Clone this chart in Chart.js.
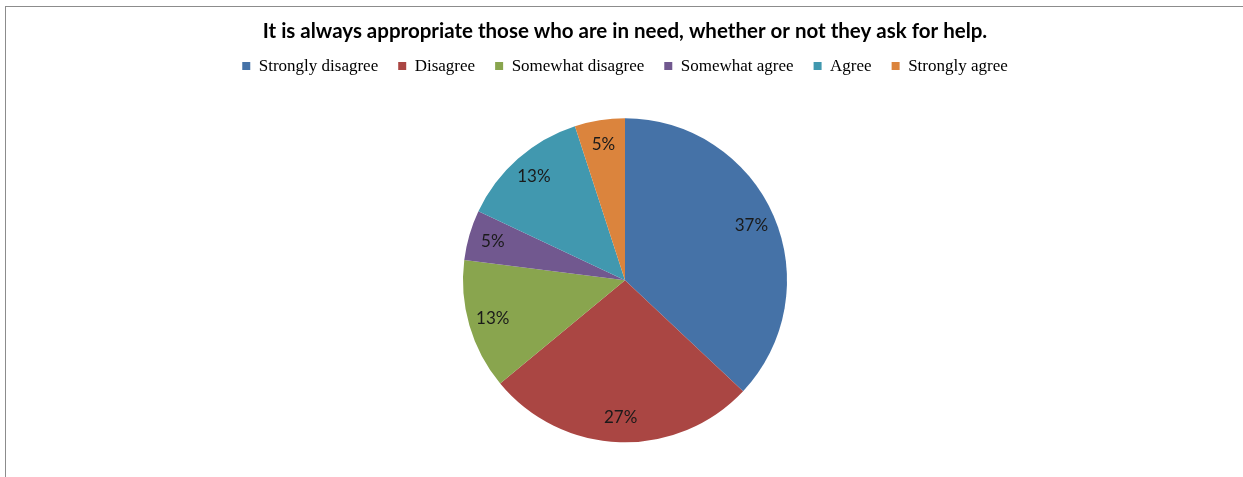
<!DOCTYPE html>
<html lang="en">

<head>
    <meta charset="UTF-8">
    <title>Appropriate to help those in need</title>
    <script src="https://cdn.jsdelivr.net/npm/chart.js"></script>
    <style>
        body {
            margin: 0;
            background: #fff;
            width: 1243px;
            height: 477px;
            overflow: hidden;
            position: relative;
        }

        #frame {
            position: absolute;
            left: 5px;
            top: 6px;
            width: 1240px;
            height: 480px;
            border-left: 1px solid #8c8c8c;
            border-top: 1px solid #8c8c8c;
        }

        #wrap {
            position: absolute;
            left: 0;
            top: 0;
            width: 1243px;
            height: 477px;
        }
    </style>
</head>

<body>
    <div id="frame"></div>
    <div id="wrap"><canvas id="pieChart"></canvas></div>

    <script>
        const categories = ['Strongly disagree', 'Disagree', 'Somewhat disagree', 'Somewhat agree', 'Agree', 'Strongly agree'];
        const shares = [37, 27, 13, 5, 13, 5];
        const sliceColors = ['#4572A7', '#AA4643', '#89A54E', '#71588F', '#4198AF', '#DB843D'];

        // percentage labels placed near the rim of each slice
        const sliceLabels = {
            id: 'sliceLabels',
            afterDatasetsDraw(chart) {
                const ctx = chart.ctx;
                const meta = chart.getDatasetMeta(0);
                ctx.save();
                ctx.font = '17px Lato';
                ctx.fillStyle = '#1a1a1a';
                ctx.textAlign = 'center';
                ctx.textBaseline = 'middle';
                meta.data.forEach((arc, i) => {
                    const p = arc.getProps(['x', 'y', 'startAngle', 'endAngle', 'outerRadius']);
                    const mid = (p.startAngle + p.endAngle) / 2;
                    const r = p.outerRadius * 0.85;
                    ctx.fillText(shares[i] + '%', p.x + Math.cos(mid) * r, p.y + Math.sin(mid) * r);
                });
                ctx.restore();
            }
        };

        new Chart(document.getElementById('pieChart'), {
            type: 'pie',
            data: {
                labels: categories,
                datasets: [{
                    data: shares,
                    backgroundColor: sliceColors,
                    borderWidth: 0,
                    radius: 162
                }]
            },
            options: {
                responsive: true,
                maintainAspectRatio: false,
                animation: false,
                layout: {
                    padding: { left: 7, right: 0, top: 0, bottom: 1 }
                },
                plugins: {
                    tooltip: { enabled: false },
                    title: {
                        display: true,
                        text: 'It is always appropriate those who are in need, whether or not they ask for help.',
                        color: '#000',
                        font: { family: 'Lato', size: 20.5, weight: 'bold' },
                        padding: { top: 19, bottom: -6 }
                    },
                    legend: {
                        position: 'top',
                        labels: {
                            color: '#000',
                            font: { family: 'Liberation Serif', size: 17 },
                            boxWidth: 8,
                            boxHeight: 8,
                            padding: 20
                        }
                    }
                }
            },
            plugins: [sliceLabels]
        });
    </script>
</body>

</html>
